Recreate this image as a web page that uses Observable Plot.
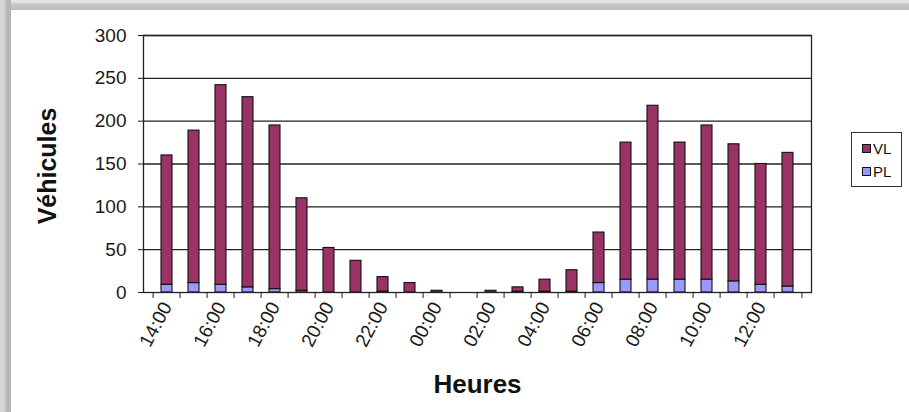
<!DOCTYPE html>
<html><head><meta charset="utf-8">
<script src="https://cdn.jsdelivr.net/npm/d3@7"></script>
<script src="https://cdn.jsdelivr.net/npm/@observablehq/plot@0.6"></script>
<style>
body{margin:0;background:#fff;}
#wrap{position:relative;width:909px;height:412px;overflow:hidden;background:#fff;font-family:"Liberation Sans",Arial,sans-serif;}
#topband{position:absolute;left:0;top:0;width:909px;height:10px;background:linear-gradient(to bottom,#e6e6e6 0,#dedede 3px,#c6c6c6 4px,#bcbcbc 10px);}
#leftband{position:absolute;left:0;top:0;width:11px;height:412px;background:linear-gradient(to right,#d8d8d8 0,#d0d0d0 5px,#bababa 6px,#b4b4b4 11px);}
#chart{position:absolute;left:0;top:0;}
#legend{position:absolute;left:851px;top:132px;width:51px;height:55px;border:1.5px solid #333;box-sizing:border-box;background:#fff;padding-top:4px;}
.item{display:flex;align-items:center;height:23px;padding-left:10px;font-size:15px;color:#111;}
.sw{width:7px;height:7px;border:1px solid #111;margin-right:2px;}
</style>
</head><body>
<div id="wrap">
  <div id="chart"></div>
  <div id="topband"></div>
  <div id="leftband"></div>
  <div id="legend"></div>
</div>
<script>
const hours = ["14:00","15:00","16:00","17:00","18:00","19:00","20:00","21:00","22:00","23:00","00:00","01:00","02:00","03:00","04:00","05:00","06:00","07:00","08:00","09:00","10:00","11:00","12:00","13:00"];
const labeledHours = ["14:00","16:00","18:00","20:00","22:00","00:00","02:00","04:00","06:00","08:00","10:00","12:00"];
const series = ["VL","PL"];
const seriesColors = ["#993366","#9999FF"];
const vl = [151,178,233,222,191,108,52,37,17,11,2,0,2,5,14,25,59,160,203,160,180,160,141,156];
const pl = [9,11,9,6,4,2,0,0,1,0,0,0,0,1,1,1,11,15,15,15,15,13,9,7];
const yTicks = [0,50,100,150,200,250,300];

const rows = [];
hours.forEach((h,i)=>rows.push({hour:h, type:"PL", value:pl[i]}));
hours.forEach((h,i)=>rows.push({hour:h, type:"VL", value:vl[i]}));

const W=909, H=412, mL=143, mR=98, mT=35, mB=120;
const step = (W-mL-mR)/hours.length;
const font = "'Liberation Sans', Arial, sans-serif";

const chart = Plot.plot({
  width:W, height:H, marginLeft:mL, marginRight:mR, marginTop:mT, marginBottom:mB,
  style:{fontFamily:font, background:"transparent", color:"#1a1a1a"},
  x:{domain:hours, paddingInner:0.6, paddingOuter:0.3},
  y:{domain:[0,300]},
  color:{domain:series, range:seriesColors},
  marks:[
    Plot.ruleY(yTicks.filter(d=>d>0), {stroke:"#222", strokeWidth:1.3}),
    Plot.barY(rows, Plot.stackY({x:"hour", y:"value", fill:"type", stroke:"#111", strokeWidth:1.1})),
    Plot.frame({stroke:"#222", strokeWidth:1.3}),
    Plot.axisY({ticks:yTicks, tickSize:5, tickPadding:12, fontSize:19, label:null}),
    Plot.axisX(hours, {tickSize:6, tickFormat:()=>"", dx:-step/2, label:null}),
    Plot.axisX([hours[hours.length-1]], {tickSize:6, tickFormat:()=>"", dx:step/2, label:null}),
    Plot.axisX(labeledHours, {tickSize:0, tickPadding:11, tickRotate:-62, fontSize:19, label:null}),
    Plot.text(["Heures"], {frameAnchor:"bottom", textAnchor:"middle", lineAnchor:"middle", dy:92, fontSize:26, fontWeight:"bold", fill:"#111"}),
    Plot.text(["Véhicules"], {frameAnchor:"left", textAnchor:"middle", lineAnchor:"middle", dx:-96, dy:2, rotate:-90, fontSize:25, fontWeight:"bold", fill:"#111"})
  ]
});
document.getElementById("chart").appendChild(chart);

const legend = document.getElementById("legend");
series.forEach((s,i)=>{
  const it = document.createElement("div"); it.className="item";
  const sw = document.createElement("div"); sw.className="sw"; sw.style.background=seriesColors[i];
  const t = document.createElement("span"); t.textContent=s;
  it.appendChild(sw); it.appendChild(t); legend.appendChild(it);
});
</script>
</body></html>
